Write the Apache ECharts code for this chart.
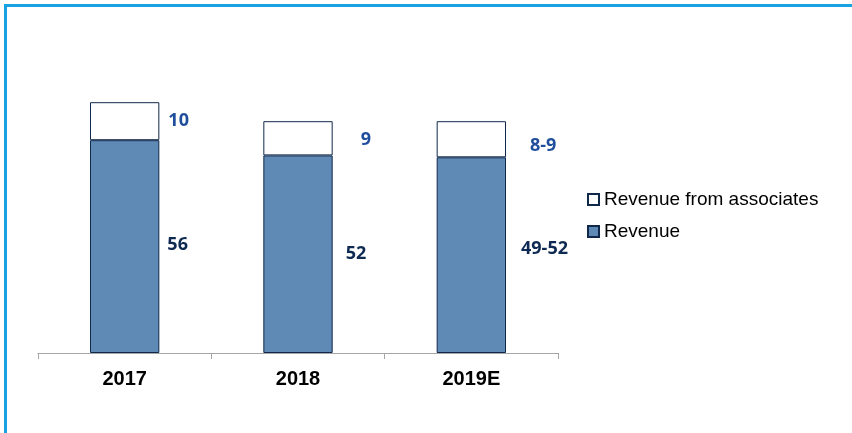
<!DOCTYPE html>
<html>
<head>
<meta charset="utf-8">
<script src="https://cdn.jsdelivr.net/npm/echarts@6/dist/echarts.min.js"></script>
<style>
  html, body { margin: 0; padding: 0; background: #fff; }
  #main { position: absolute; left: 0; top: 0; width: 852px; height: 433px; }
  #frame { position: absolute; left: 4px; top: 4px; right: 0; bottom: 0;
    border-top: 3px solid #17a2e2; border-left: 3px solid #17a2e2; pointer-events: none; }
</style>
</head>
<body>
<div id="main"></div>
<div id="frame"></div>
<script>
const years = ['2017', '2018', '2019E']
const revenue = [56, 52, 51.5]
const associates = [10, 9, 9.5]
const revenueLabels = ['56', '52', '49-52']
const associateLabels = ['10', '9', '8-9']

const edge = '#10284a'

const chart = echarts.init(document.getElementById('main'))

// labels sit to the right of each bar segment
function withLabels(values, labels, color, offsets) {
  return values.map((v, i) => ({
    value: v,
    label: {
      show: true,
      position: 'right',
      distance: 0,
      offset: offsets[i],
      formatter: labels[i],
      color: color,
      fontFamily: 'Open Sans',
      fontWeight: 'bold',
      fontSize: 18
    }
  }))
}

chart.setOption({
  animation: false,
  grid: { left: 38, right: 294, top: 49, bottom: 80 },
  legend: {
    orient: 'vertical',
    left: 582,
    top: 185,
    itemWidth: 11,
    itemHeight: 11,
    itemGap: 13,
    icon: 'rect',
    textStyle: { fontFamily: 'Liberation Sans', fontSize: 19, color: '#000' },
    data: ['Revenue from associates', 'Revenue']
  },
  xAxis: {
    type: 'category',
    data: years,
    axisLine: { lineStyle: { color: '#a6a6a6', width: 1 } },
    axisTick: { show: true, length: 6, lineStyle: { color: '#a6a6a6' } },
    axisLabel: {
      margin: 16,
      fontFamily: 'Liberation Sans',
      fontWeight: 'bold',
      fontSize: 20,
      color: '#000'
    }
  },
  yAxis: {
    type: 'value',
    min: 0,
    max: 80,
    show: false,
    splitLine: { show: false }
  },
  series: [
    {
      name: 'Revenue',
      type: 'bar',
      stack: 'total',
      barWidth: '40%',
      itemStyle: { color: '#5f8ab5', borderColor: edge, borderWidth: 1 },
      data: withLabels(revenue, revenueLabels, '#0f2a52', [[8, -2], [13, 0], [15, -6]])
    },
    {
      name: 'Revenue from associates',
      type: 'bar',
      stack: 'total',
      barWidth: '40%',
      itemStyle: { color: '#ffffff', borderColor: edge, borderWidth: 1 },
      data: withLabels(associates, associateLabels, '#1f4f9c', [[9, 0], [28, 2], [24, 7]])
    }
  ]
})
</script>
</body>
</html>
